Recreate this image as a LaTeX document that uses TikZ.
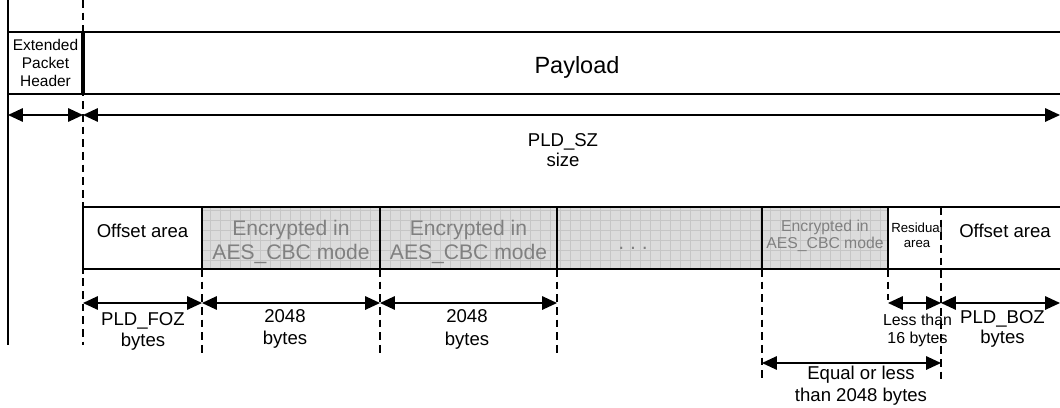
\documentclass[tikz,border=0pt]{standalone}
\usepackage{fontspec}
\setmainfont{Liberation Sans}
\usetikzlibrary{arrows.meta}
\definecolor{encfill}{HTML}{DCDCDC}
\definecolor{encgrid}{HTML}{C6C6C6}
\definecolor{enctext}{HTML}{808080}
\newcommand{\fsz}[2]{\fontsize{#1}{#2}\selectfont}

\begin{document}
\begin{tikzpicture}[x=0.025cm, y=-0.025cm, line width=1.1pt,
    dim/.style={{Triangle[length=10.5pt,width=9.5pt]}-{Triangle[length=10.5pt,width=9.5pt]}, line width=1pt},
    guide/.style={dash pattern=on 5.5pt off 3.5pt, line width=1pt},
    sep/.style={line width=1.8pt},
    lbl/.style={align=center, inner sep=0pt},
    enc/.style={lbl, text=enctext}]
  \useasboundingbox (0,0) rectangle (1060,408);
  % boundaries of the payload fields
  \foreach \n/\x in {c0/83, c1/202, c2/380, c3/557, c4/762, c5/888, c6/941, c7/1060}
    \coordinate (\n) at (\x,207);
  \coordinate (a1) at (0,115);
  \coordinate (a2) at (0,303);
  \coordinate (a3) at (0,363);

  % header / payload split
  \draw (8,0) -- (8,345);
  \draw[guide] (83,0) -- (83,345);
  \draw (8,32) -- (1060,32) (8,94) -- (1060,94);
  \draw[line width=2.2pt] (83,32) -- (83,94);
  \node[lbl, font=\fsz{11}{12.8}] (eph) at (45.5,63) {Extended\\Packet\\Header};
  \node[lbl, font=\fsz{16.7}{20}] (pld) at (577,67) {Payload};
  \draw[dim] (8,0 |- a1) -- (c0 |- a1);
  \draw[dim] (c0 |- a1) -- (1060,0 |- a1);
  \node[lbl, font=\fsz{13.2}{14.2}] (pldsz) at (563,150) {PLD\_SZ\\size};

  % payload fields
  \fill[encfill] (c1) rectangle (888,269);
  \draw[encgrid, line width=0.4pt, step=0.25cm] (c1) grid (888,269);
  \foreach \n/\e in {c1/355, c2/355, c3/355, c4/380}
    \draw[guide] (\n |- 0,269) -- (\n |- 0,\e);
  \draw[guide] (c5 |- 0,269) -- (c5 |- 0,300);
  \draw[guide] (c6) -- (c6 |- 0,382);
  \draw (c0) -- (c7) (c0 |- 0,269) -- (c7 |- 0,269);
  \draw (c0) -- (c0 |- 0,269);
  \draw[line width=1.3pt] (c1) -- (c1 |- 0,269);
  \foreach \n in {c2, c3, c4, c5}
    \draw[sep] (\n) -- (\n |- 0,269);

  \node[lbl, font=\fsz{13.2}{15}] (offl) at (142.5,231) {Offset area};
  \node[enc, font=\fsz{15}{17}] (enc1) at (291,242) {Encrypted in\\AES\_CBC mode};
  \node[enc, font=\fsz{15}{17}] (enc2) at (468.5,242) {Encrypted in\\AES\_CBC mode};
  \node[enc, font=\fsz{15}{17}] (dots) at (633,248) {.\ .\ .};
  \node[enc, font=\fsz{11.2}{12.1}] (encn) at (825,235.5) {Encrypted in\\AES\_CBC mode};
  \node[lbl, font=\fsz{9.4}{10.7}] (resid) at (917,235.5) {Residual\\area};
  \node[lbl, font=\fsz{13.2}{15}] (offr) at (1005,231) {Offset area};

  % sizes
  \draw[dim] (c0 |- a2) -- (c1 |- a2);
  \draw[dim] (c1 |- a2) -- (c2 |- a2);
  \draw[dim] (c2 |- a2) -- (c3 |- a2);
  \draw[dim] (c5 |- a2) -- (c6 |- a2);
  \draw[dim] (c6 |- a2) -- (c7 |- a2);
  \draw[dim] (c4 |- a3) -- (c6 |- a3);
  \node[lbl, font=\fsz{13.2}{14.9}] (foz) at (143,331) {PLD\_FOZ\\bytes};
  \node[lbl, font=\fsz{13.2}{15.6}] (sz1) at (285,329) {2048\\bytes};
  \node[lbl, font=\fsz{13.2}{16.3}] (sz2) at (467,329) {2048\\bytes};
  \node[lbl, font=\fsz{11.3}{12.8}] (less) at (917.5,330) {Less than\\16 bytes};
  \node[lbl, font=\fsz{13.2}{14.2}] (boz) at (1002.5,328.5) {PLD\_BOZ\\bytes};
  \node[lbl, font=\fsz{13.2}{15.6}] (eq) at (861,386) {Equal or less\\than 2048 bytes};
\end{tikzpicture}
\end{document}
